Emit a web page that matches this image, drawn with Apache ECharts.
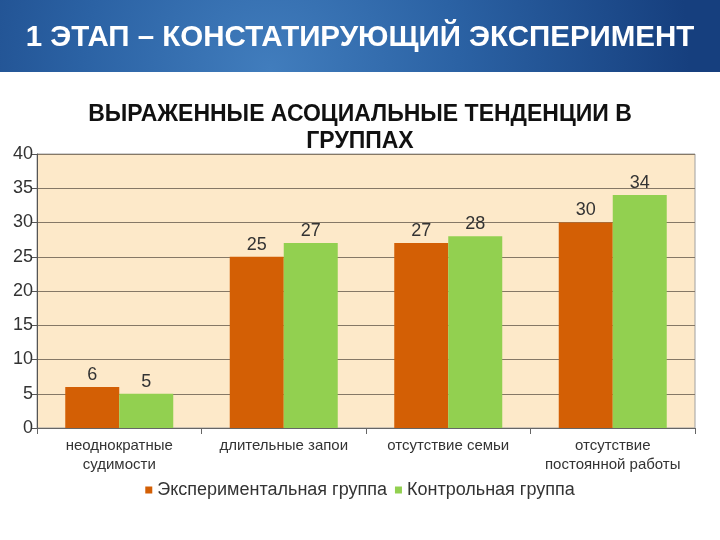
<!DOCTYPE html>
<html>
<head>
<meta charset="utf-8">
<script src="https://cdn.jsdelivr.net/npm/echarts@6/dist/echarts.min.js"></script>
<style>
  html, body { margin: 0; padding: 0; background: #fff; }
  #chart { width: 720px; height: 540px; }
</style>
</head>
<body>
<div id="chart"></div>
<script>
const categories = ['неоднократные\nсудимости', 'длительные запои', 'отсутствие семьи', 'отсутствие\nпостоянной работы']
const experimental = [6, 25, 27, 30]
const control = [5, 27, 28, 34]
const seriesNames = ['Экспериментальная группа', 'Контрольная группа']

const chart = echarts.init(document.getElementById('chart'))

const labelStyle = {
  show: true,
  position: 'top',
  distance: 3,
  fontFamily: 'Liberation Sans, Arial, sans-serif',
  fontSize: 18,
  color: '#333'
}

const option = {
  backgroundColor: '#fff',
  animation: false,
  graphic: [{
    type: 'rect',
    shape: { x: 0, y: 0, width: 720, height: 72 },
    style: {
      fill: {
        type: 'radial', x: 270, y: 70, r: 420, global: true,
        colorStops: [
          { offset: 0, color: '#417dbd' },
          { offset: 0.45, color: '#2b62a4' },
          { offset: 1, color: '#163f7e' }
        ]
      }
    },
    z: 0
  }, {
    type: 'text',
    x: 360,
    y: 101,
    style: {
      text: 'ВЫРАЖЕННЫЕ АСОЦИАЛЬНЫЕ ТЕНДЕНЦИИ В\nГРУППАХ',
      fontFamily: 'Liberation Sans, Arial, sans-serif',
      fontWeight: 'bold',
      fontSize: 23,
      lineHeight: 27,
      fill: '#111',
      align: 'center'
    }
  }],
  title: {
    text: '1 ЭТАП – КОНСТАТИРУЮЩИЙ ЭКСПЕРИМЕНТ',
    left: 'center',
    top: 18,
    textStyle: {
      fontFamily: 'Liberation Sans, Arial, sans-serif',
      fontWeight: 'bold',
      fontSize: 29.5,
      color: '#fff'
    }
  },
  legend: {
    bottom: 36,
    left: 'center',
    itemWidth: 7,
    itemHeight: 7,
    itemGap: 8,
    icon: 'rect',
    textStyle: {
      fontFamily: 'Liberation Sans, Arial, sans-serif',
      fontSize: 18,
      color: '#333'
    },
    data: seriesNames
  },
  grid: {
    left: 37,
    right: 25,
    top: 154,
    bottom: 112,
    show: true,
    backgroundColor: '#fde9c9',
    borderColor: '#a0a0a0',
    borderWidth: 1
  },
  xAxis: {
    type: 'category',
    data: categories,
    axisLine: { lineStyle: { color: '#666' } },
    axisTick: { show: true, interval: 0, length: 6, lineStyle: { color: '#666' } },
    axisLabel: {
      interval: 0,
      fontFamily: 'Liberation Sans, Arial, sans-serif',
      fontSize: 15,
      lineHeight: 19,
      color: '#333',
      margin: 8
    }
  },
  yAxis: {
    type: 'value',
    min: 0,
    max: 40,
    interval: 5,
    axisLine: { show: true, lineStyle: { color: '#555' } },
    axisTick: { show: true, length: 5, lineStyle: { color: '#555' } },
    axisLabel: {
      fontFamily: 'Liberation Sans, Arial, sans-serif',
      fontSize: 18,
      color: '#333',
      margin: 4
    },
    splitLine: { lineStyle: { color: '#857866', width: 1 } }
  },
  series: [{
    name: seriesNames[0],
    type: 'bar',
    data: experimental,
    barWidth: 54,
    barGap: '0%',
    itemStyle: { color: '#d35f05' },
    label: labelStyle
  }, {
    name: seriesNames[1],
    type: 'bar',
    data: control,
    barWidth: 54,
    barGap: '0%',
    itemStyle: { color: '#92d050' },
    label: labelStyle
  }]
}

chart.setOption(option)
</script>
</body>
</html>
